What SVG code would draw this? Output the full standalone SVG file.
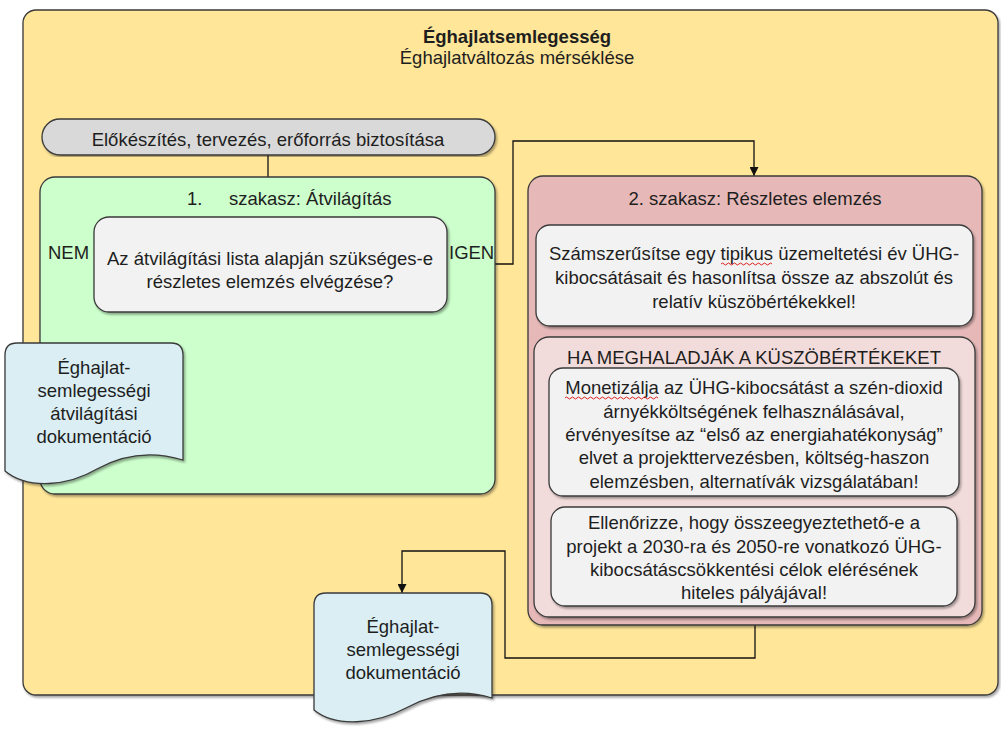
<svg xmlns="http://www.w3.org/2000/svg" width="1001" height="729" viewBox="0 0 1001 729">
<style>
text{font-family:"Liberation Sans",Arial,sans-serif;font-size:18.5px;fill:#1e1e1e;text-anchor:middle}
.st{text-anchor:start}
.b{font-weight:bold}
.box{stroke:#3a3a3a;stroke-width:1.3}
.conn{fill:none;stroke:#111;stroke-width:1.3}
.sq{fill:none;stroke:#e02020;stroke-width:1}
</style>
<defs>
<filter id="sh" x="-5%" y="-5%" width="110%" height="110%">
<feDropShadow dx="1.5" dy="2" stdDeviation="1" flood-color="#000" flood-opacity="0.35"/>
</filter>
<marker id="arr" viewBox="0 0 10 10" refX="10" refY="5" markerWidth="9" markerHeight="9" markerUnits="userSpaceOnUse" orient="auto">
<path d="M0,0 L10,5 L0,10 Z" fill="#111"/>
</marker>
</defs>

<g id="outer">
<rect class="box" x="23" y="10" width="975" height="685" rx="13" fill="#FFE699" stroke="#555" stroke-width="1.6" filter="url(#sh)"/>
<text class="b" x="517" y="43">Éghajlatsemlegesség</text>
<text x="517" y="64">Éghajlatváltozás mérséklése</text>
</g>

<g id="connectors">
<path class="conn" d="M268,155 V177"/>
<path class="conn" d="M94,264 H57 V325 H95 V343" marker-end="url(#arr)"/>
<path class="conn" d="M447,264 H513 V141 H754 V176" marker-end="url(#arr)"/>
<path class="conn" d="M754,326 V337"/>
<path class="conn" d="M754,496 V507"/>
<path class="conn" d="M755,625 V658 H505 V551 H402 V593" marker-end="url(#arr)"/>
</g>

<g id="prep">
<rect class="box" x="42" y="119" width="453" height="36" rx="18" fill="#D9D9D9" filter="url(#sh)"/>
<text x="268" y="146">Előkészítés, tervezés, erőforrás biztosítása</text>
</g>

<g id="stage1">
<rect class="box" x="40" y="177" width="455" height="317" rx="15" fill="#CCFFCC" filter="url(#sh)"/>
<text class="st" x="187" y="205">1.</text>
<text class="st" x="229" y="205">szakasz: Átvilágítás</text>
</g>

<g id="decision">
<rect class="box" x="94" y="217" width="353" height="95" rx="15" fill="#F2F2F2" filter="url(#sh)"/>
<text x="270" y="265">Az átvilágítási lista alapján szükséges-e</text>
<text x="270" y="288">részletes elemzés elvégzése?</text>
</g>

<g id="label-nem"><text class="st" x="48" y="259">NEM</text></g>
<g id="label-igen"><text class="st" x="449" y="259">IGEN</text></g>

<g id="doc1">
<path class="box" d="M17,343 H171 Q183,343 183,355 V460 C150,450 122,455 97,469 C68,486 28,490 5,471 V355 Q5,343 17,343 Z" fill="#DAEEF3" filter="url(#sh)"/>
<text x="94" y="374">Éghajlat-</text>
<text x="94" y="397">semlegességi</text>
<text x="94" y="420">átvilágítási</text>
<text x="94" y="443">dokumentáció</text>
</g>

<g id="stage2">
<rect class="box" x="528" y="176" width="454" height="449" rx="15" fill="#E6B9B8" filter="url(#sh)"/>
<text x="755" y="205">2. szakasz: Részletes elemzés</text>
</g>

<g id="quantify">
<rect class="box" x="536" y="225" width="437" height="101" rx="14" fill="#F2F2F2" filter="url(#sh)"/>
<text x="754" y="260">Számszerűsítse egy tipikus üzemeltetési év ÜHG-</text>
<text x="754" y="284">kibocsátásait és hasonlítsa össze az abszolút és</text>
<text x="754" y="308">relatív küszöbértékekkel!</text>
<path class="sq" d="M721,264 q1.5,-2 3,0 t3,0 t3,0 t3,0 t3,0 t3,0 t3,0 t3,0 t3,0 t3,0 t3,0 t3,0 t3,0 t3,0 t3,0 t3,0 t3,0"/>
</g>

<g id="threshold">
<rect class="box" x="534" y="337" width="441" height="280" rx="15" fill="#F2DCDB" filter="url(#sh)"/>
<text x="754" y="364">HA MEGHALADJÁK A KÜSZÖBÉRTÉKEKET</text>
</g>

<g id="monetize">
<rect class="box" x="549" y="368" width="410" height="128" rx="14" fill="#F2F2F2" filter="url(#sh)"/>
<text x="754" y="394">Monetizálja az ÜHG-kibocsátást a szén-dioxid</text>
<text x="754" y="418">árnyékköltségének felhasználásával,</text>
<text x="754" y="441">érvényesítse az “első az energiahatékonyság”</text>
<text x="754" y="464">elvet a projekttervezésben, költség-haszon</text>
<text x="754" y="488">elemzésben, alternatívák vizsgálatában!</text>
<path class="sq" d="M565,398 q1.5,-2 3,0 t3,0 t3,0 t3,0 t3,0 t3,0 t3,0 t3,0 t3,0 t3,0 t3,0 t3,0 t3,0 t3,0 t3,0 t3,0 t3,0 t3,0 t3,0 t3,0 t3,0 t3,0 t3,0 t3,0 t3,0 t3,0 t3,0 t3,0 t3,0 t3,0 t3,0"/>
</g>

<g id="check">
<rect class="box" x="551" y="507" width="406" height="99" rx="14" fill="#F2F2F2" filter="url(#sh)"/>
<text x="754" y="529">Ellenőrizze, hogy összeegyeztethető-e a</text>
<text x="754" y="553">projekt a 2030-ra és 2050-re vonatkozó ÜHG-</text>
<text x="754" y="576">kibocsátáscsökkentési célok elérésének</text>
<text x="754" y="599">hiteles pályájával!</text>
</g>

<g id="doc2">
<path class="box" d="M326,593 H480 Q492,593 492,605 V698 C460,688 432,694 406,708 C376,724 336,728 314,710 V605 Q314,593 326,593 Z" fill="#DAEEF3" filter="url(#sh)"/>
<text x="403" y="633">Éghajlat-</text>
<text x="403" y="656">semlegességi</text>
<text x="403" y="679">dokumentáció</text>
</g>
</svg>
